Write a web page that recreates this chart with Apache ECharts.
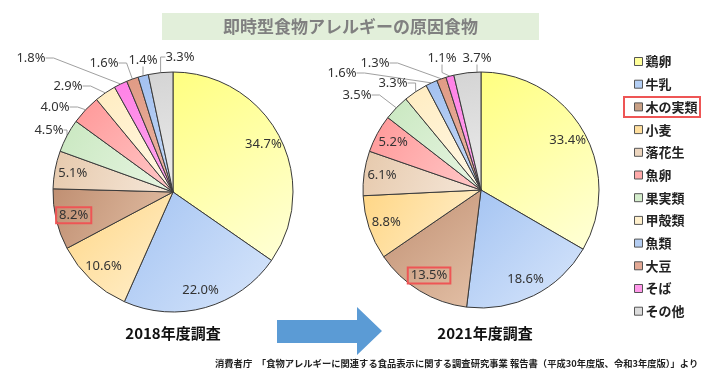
<!DOCTYPE html>
<html>
<head>
<meta charset="utf-8">
<script src="https://cdn.jsdelivr.net/npm/echarts@6/dist/echarts.min.js"></script>
<style>
html,body{margin:0;padding:0;background:#fff;}
#c{width:725px;height:384px;}
</style>
</head>
<body>
<div id="c"></div>
<script>
// ---- data ----
const categories = ['鶏卵','牛乳','木の実類','小麦','落花生','魚卵','果実類','甲殻類','魚類','大豆','そば','その他'];
const values2018 = [34.7, 22.0, 8.2, 10.6, 5.1, 4.0, 4.5, 2.9, 1.4, 1.6, 1.8, 3.3];
const values2021 = [33.4, 18.6, 13.5, 8.8, 6.1, 5.2, 3.5, 3.3, 1.6, 1.3, 1.1, 3.7];
// slice order (clockwise from top) in each survey
const order2018 = ['鶏卵','牛乳','小麦','木の実類','落花生','果実類','魚卵','甲殻類','そば','大豆','魚類','その他'];
const order2021 = ['鶏卵','牛乳','木の実類','小麦','落花生','魚卵','果実類','甲殻類','魚類','大豆','そば','その他'];
const titleText = '即時型食物アレルギーの原因食物';
const yearLabels = ['2018年度調査','2021年度調査'];
const sourceText = '消費者庁　「食物アレルギーに関連する食品表示に関する調査研究事業 報告書（平成30年度版、令和3年度版）」より';

// ---- styles ----
const colorPairs = {
  '鶏卵':   ['#ffff80','#ffffd8'],
  '牛乳':   ['#a3c3f2','#d8e6fb'],
  '木の実類': ['#c08f72','#e3c0a6'],
  '小麦':   ['#ffd685','#fff0cf'],
  '落花生': ['#e6c9ac','#f6e8da'],
  '魚卵':   ['#ff9797','#ffc9c9'],
  '果実類': ['#c9e8c0','#e8f5e3'],
  '甲殻類': ['#ffecc0','#fff8e6'],
  '魚類':   ['#a2c0f0','#c8dbf7'],
  '大豆':   ['#e09a84','#edb8a6'],
  'そば':   ['#ff80e6','#ffaaf0'],
  'その他': ['#d4d4d4','#ececec']
};
const legendColors = {
  '鶏卵':'#ffff99','牛乳':'#b4cff5','木の実類':'#c9a085','小麦':'#ffdf9e','落花生':'#ecd5be',
  '魚卵':'#ffaaaa','果実類':'#d4edcc','甲殻類':'#fff0cc','魚類':'#b4cdf2','大豆':'#e4a995',
  'そば':'#ff99ea','その他':'#dcdcdc'
};
function grad(name){
  const p = colorPairs[name];
  return new echarts.graphic.LinearGradient(0,0,1,1,[{offset:0,color:p[0]},{offset:1,color:p[1]}]);
}
const labelFont = {fontFamily:'Noto Sans', fontSize:13, color:'#333'};
const highlightBox = {borderColor:'#ee5555', borderWidth:2, padding:[2,3,1,3]};

// outside label placement (label centres)
const outsidePos2018 = {'果実類':[49,130],'魚卵':[55,107],'甲殻類':[68,86],'そば':[31,58],'大豆':[104,63],'魚類':[143,60],'その他':[180,57]};
const outsidePos2021 = {'果実類':[357,95],'甲殻類':[393,83],'魚類':[342,73],'大豆':[375,63],'そば':[442,58],'その他':[477,58]};

function buildData(order, values, outsidePos, mode){
  return order.map(name => {
    const v = values[categories.indexOf(name)];
    const isOut = outsidePos[name] !== undefined;
    const item = {name, value: v};
    if (mode === 'main') {
      item.itemStyle = {color: grad(name)};
      item.label = {show: isOut};
      item.labelLine = {show: isOut};
    } else {
      item.label = {show: !isOut};
      if (name === '木の実類') item.label = Object.assign({show: !isOut}, highlightBox);
    }
    return item;
  });
}

function mainSeries(order, values, outsidePos, center, r){
  return {
    type:'pie', center, radius:[0, r], startAngle:90, clockwise:true,
    avoidLabelOverlap:false, animation:false,
    itemStyle:{borderColor:'#3a3a3a', borderWidth:1},
    label:Object.assign({position:'outside', formatter: p => p.value.toFixed(1)+'%'}, labelFont),
    labelLine:{lineStyle:{color:'#a0a0a0', width:1}, length:8, length2:8},
    emphasis:{disabled:true},
    labelLayout: function(params){
      const name = order[params.dataIndex];
      const pos = outsidePos[name];
      if (!pos) return {};
      return {x: pos[0], y: pos[1], align:'center', verticalAlign:'middle'};
    },
    data: buildData(order, values, outsidePos, 'main')
  };
}
function labelSeries(order, values, outsidePos, center, r0, r){
  return {
    type:'pie', center, radius:[r0, r], startAngle:90, clockwise:true,
    silent:true, animation:false, avoidLabelOverlap:false,
    itemStyle:{color:'rgba(0,0,0,0)', borderWidth:0},
    label:Object.assign({position:'inside', formatter: p => p.value.toFixed(1)+'%'}, labelFont),
    labelLine:{show:false},
    emphasis:{disabled:true},
    data: buildData(order, values, outsidePos, 'label')
  };
}

const chart = echarts.init(document.getElementById('c'), null, {renderer:'canvas'});
chart.setOption({
  backgroundColor:'#ffffff',
  animation:false,
  title:{
    text:titleText, left:162, top:13,
    backgroundColor:'#e2efda', padding:[5,61,5,61],
    textStyle:{fontFamily:'Noto Sans CJK JP', fontSize:17, fontWeight:'bold', color:'#808080', lineHeight:17}
  },
  legend:{
    orient:'vertical', left:629, top:50,
    itemWidth:8, itemHeight:8, itemGap:9.7, icon:'rect',
    selectedMode:false,
    textStyle:{fontFamily:'Noto Sans CJK JP', fontSize:13, fontWeight:'bold', color:'#222', padding:[0,0,0,-2]},
    data: categories.map(n => ({name:n, itemStyle:{color:legendColors[n], borderColor:'#555', borderWidth:1}}))
  },
  graphic:[
    {type:'rect', shape:{x:624, y:97, width:76, height:20}, style:{fill:'none', stroke:'#ee5555', lineWidth:2}, z:10},
    {type:'polygon', shape:{points:[[277,320],[357,320],[357,307],[382,331],[357,355],[357,343],[277,343]]}, style:{fill:'#5b9bd5'}},
    {type:'text', x:173, y:333, style:{text:yearLabels[0], align:'center', verticalAlign:'middle', fontFamily:'Noto Sans CJK JP', fontSize:15, fontWeight:'bold', fill:'#111'}},
    {type:'text', x:485, y:333, style:{text:yearLabels[1], align:'center', verticalAlign:'middle', fontFamily:'Noto Sans CJK JP', fontSize:15, fontWeight:'bold', fill:'#111'}},
    {type:'text', x:215, y:363, style:{text:sourceText, align:'left', verticalAlign:'middle', fontFamily:'Noto Sans CJK JP', fontSize:9.3, fontWeight:'bold', fill:'#222'}}
  ],
  series:[
    mainSeries(order2018, values2018, outsidePos2018, [173,192], 120),
    labelSeries(order2018, values2018, outsidePos2018, [173,192], 78, 120),
    mainSeries(order2021, values2021, outsidePos2021, [481,190], 118),
    labelSeries(order2021, values2021, outsidePos2021, [481,190], 76, 118)
  ]
});
</script>
</body>
</html>
